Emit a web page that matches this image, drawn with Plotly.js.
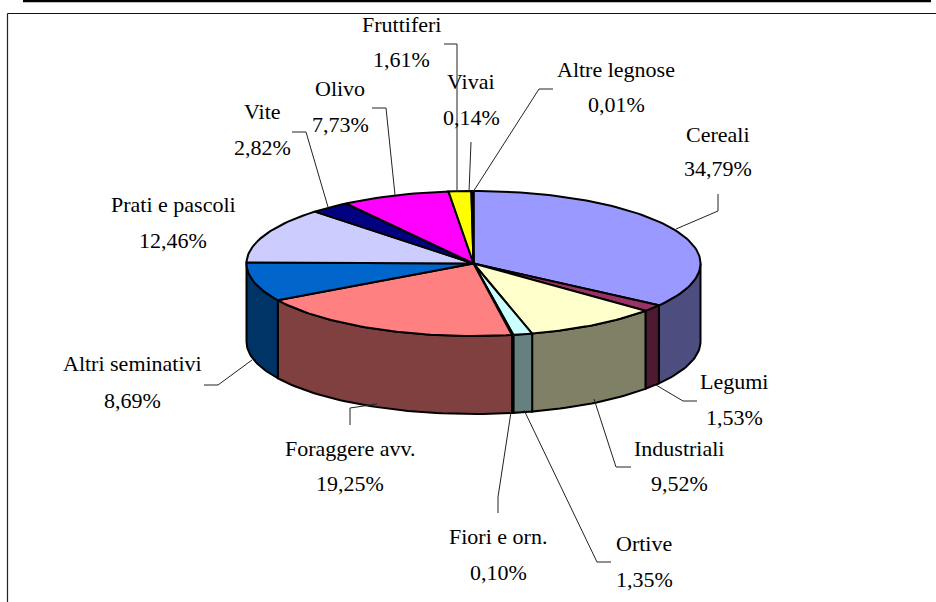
<!DOCTYPE html>
<html>
<head>
<meta charset="utf-8">
<script src="https://cdn.plot.ly/plotly-3.0.1.min.js"></script>
<style>html,body{margin:0;padding:0;background:#fff}#c{width:936px;height:602px}</style>
</head>
<body>
<div id="c"></div>
<script>
const categories = ["Cereali","Legumi","Industriali","Ortive","Fiori e orn.","Foraggere avv.","Altri seminativi","Prati e pascoli","Vite","Olivo","Fruttiferi","Vivai","Altre legnose"];
const shares = [34.79,1.53,9.52,1.35,0.10,19.25,8.69,12.46,2.82,7.73,1.61,0.14,0.01];
const topColors = ["#9999FF","#993366","#FFFFCC","#CCFFFF","#660066","#FF8080","#0066CC","#CCCCFF","#000080","#FF00FF","#FFFF00","#00FFFF","#800080"];
const sideColors = ["#4D4D80","#4D1933","#808066","#668080","#330033","#804040","#003366","#666680","#000040","#800080","#808000","#008080","#400040"];

// Label placement: centre x, y of name line, y of value line
const labelPos = [[718,134,168],[734,381,417],[679,448,483],[644,543,579],[498,536,572],[350,448,483],[132,363,400],[173,204,240],[262,111,147],[340,88,124],[401,24,59],[471,81,117],[616,69,104]];
// Leader lines, one polyline per category (Prati e pascoli has none)
const leaders = [
  [[676,229],[718,211],[718,194]],
  [[656,385],[683,401],[697,401]],
  [[594,399],[616,467],[631,467]],
  [[524,410],[597,562],[611,562]],
  [[511,412],[498,497],[498,513]],
  [[377,404],[350,408],[350,425]],
  [[252,360],[218,385],[204,385]],
  [],
  [[328,207],[306,132],[292,132]],
  [[395,195],[386,108],[372,108]],
  [[457,192],[457,44],[444,44]],
  [[469,192],[471,142]],
  [[473,192],[539,89],[553,89]]
];

const cx = 473.5, cy = 263.5, rx = 227, ry = 72.5, depth = 78;
const BLACK = "#000000";
const rad = d => d * Math.PI / 180;
const px = t => cx + rx * Math.sin(rad(t));
const py = t => cy - ry * Math.cos(rad(t));

function arc(a, b) {
  const n = Math.max(2, Math.ceil(Math.abs(b - a) / 1.5));
  const out = [];
  for (let i = 0; i <= n; i++) out.push(a + (b - a) * i / n);
  return out;
}

const total = shares.reduce((s, v) => s + v, 0);
let run = 0;
const spans = shares.map(v => { const a = run / total * 360; run += v; return [a, run / total * 360]; });

const traces = [];
// Visible outer wall (front half of the disc)
spans.forEach(([a, b], i) => {
  const s = Math.max(a, 90), e = Math.min(b, 270);
  if (e <= s) return;
  const ts = arc(s, e);
  const xs = ts.map(px), ys = ts.map(py);
  const rev = ts.slice().reverse();
  traces.push({
    type: "scatter", mode: "lines", fill: "toself", fillcolor: sideColors[i],
    x: xs.concat(rev.map(px), [xs[0]]),
    y: ys.concat(rev.map(t => py(t) + depth), [ys[0]]),
    line: {color: BLACK, width: 2}, hoverinfo: "skip", showlegend: false
  });
});
// Top surface
spans.forEach(([a, b], i) => {
  const ts = arc(a, b);
  traces.push({
    type: "scatter", mode: "lines", fill: "toself", fillcolor: topColors[i],
    x: [cx].concat(ts.map(px), [cx]),
    y: [cy].concat(ts.map(py), [cy]),
    line: {color: BLACK, width: 2}, hoverinfo: "skip", showlegend: false, name: categories[i]
  });
});
// Leader lines
leaders.forEach(l => {
  if (!l.length) return;
  traces.push({
    type: "scatter", mode: "lines",
    x: l.map(p => p[0]), y: l.map(p => p[1]),
    line: {color: "#222222", width: 1}, hoverinfo: "skip", showlegend: false
  });
});

const fmt = v => v.toFixed(2).replace(".", ",") + "%";
const font = {family: "Liberation Serif, serif", size: 22, color: "#000000"};
const annotations = [];
categories.forEach((c, i) => {
  const [x, y1, y2] = labelPos[i];
  annotations.push({x, y: y1, text: c, xref: "x", yref: "y", showarrow: false, font, xanchor: "center", yanchor: "middle"});
  annotations.push({x, y: y2, text: fmt(shares[i]), xref: "x", yref: "y", showarrow: false, font, xanchor: "center", yanchor: "middle"});
});

const layout = {
  width: 936, height: 602, margin: {l: 0, r: 0, t: 0, b: 0},
  paper_bgcolor: "#ffffff", plot_bgcolor: "#ffffff", showlegend: false,
  xaxis: {range: [0, 936], visible: false, fixedrange: true},
  yaxis: {range: [602, 0], visible: false, fixedrange: true},
  annotations,
  shapes: [
    {type: "line", xref: "x", yref: "y", x0: 23, x1: 931, y0: 1, y1: 1, line: {color: BLACK, width: 2.5}},
    {type: "line", xref: "x", yref: "y", x0: 7.5, x1: 936, y0: 13.5, y1: 13.5, line: {color: "#111111", width: 1.2}},
    {type: "line", xref: "x", yref: "y", x0: 7.5, x1: 7.5, y0: 13.5, y1: 602, line: {color: "#222222", width: 1.2}}
  ]
};
Plotly.newPlot("c", traces, layout, {staticPlot: true, displayModeBar: false});
</script>
</body>
</html>
